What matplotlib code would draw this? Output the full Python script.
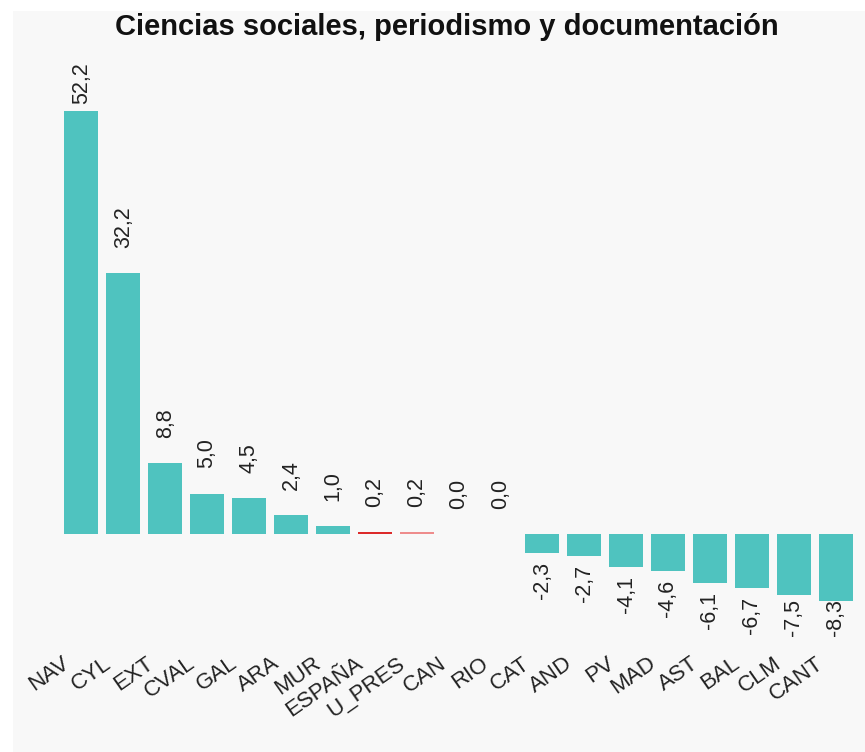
import matplotlib
matplotlib.use("Agg")
import matplotlib.pyplot as plt
import matplotlib.patches as patches
import matplotlib.transforms as mtransforms
import numpy as np

plt.rcParams['font.family'] = ['Liberation Sans', 'DejaVu Sans']

regiones = ['NAV', 'CYL', 'EXT', 'CVAL', 'GAL', 'ARA', 'MUR', 'ESPAÑA', 'U_PRES',
            'CAN', 'RIO', 'CAT', 'AND', 'PV', 'MAD', 'AST', 'BAL', 'CLM', 'CANT']
valores = [52.2, 32.2, 8.8, 5.0, 4.5, 2.4, 1.0, 0.2, 0.2,
           0.0, 0.0, -2.3, -2.7, -4.1, -4.6, -6.1, -6.7, -7.5, -8.3]
titulo = 'Ciencias sociales, periodismo y documentación'

teal = '#4fc3bf'
colores = {'ESPAÑA': '#dc2a2a', 'U_PRES': '#ee8c8c'}

W, H = 865, 752
fig = plt.figure(figsize=(W / 100, H / 100), dpi=100, facecolor='white')
# fondo gris claro
fig.patches.append(patches.Rectangle((13 / W, 0), 1, 1 - 11 / H, transform=fig.transFigure,
                                     facecolor='#f8f8f8', edgecolor='none', zorder=-1))

top_px, bot_px, zero_px = 62, 636, 534
ppu = 8.1
ax = fig.add_axes([60.5 / W, (H - bot_px) / H, 796 / W, (bot_px - top_px) / H])
ax.set_facecolor('none')
ymax = (zero_px - top_px) / ppu
ymin = -(bot_px - zero_px) / ppu
ax.set_ylim(ymin, ymax)
ax.set_xlim(-0.5, len(regiones) - 0.5)

x = np.arange(len(regiones))
cols = [colores.get(r, teal) for r in regiones]
ax.bar(x, valores, width=0.81, color=cols, edgecolor='none')

for s in ax.spines.values():
    s.set_visible(False)
ax.set_yticks([])
ax.tick_params(axis='x', length=0)
ax.set_xticks(x)
ax.set_xticklabels(regiones, rotation=35, ha='right', rotation_mode='anchor', fontsize=16, color='#222222')
off = mtransforms.ScaledTranslation(-0.20, -0.12, fig.dpi_scale_trans)
for lab in ax.get_xticklabels():
    lab.set_transform(lab.get_transform() + off)

# etiquetas de valor
fig.canvas.draw()
renderer = fig.canvas.get_renderer()
for xi, v in zip(x, valores):
    txt = f'{v:.1f}'.replace('.', ',')
    if v >= 0:
        y = v + 25 / ppu
        t = ax.text(xi, y, txt, rotation=90, ha='center', va='bottom', fontsize=15.5, color='#222222')
        ext = t.get_window_extent(renderer)
        largo = ext.height / ppu
        if y + largo > ymax:
            t.set_y(ymax - largo)
    else:
        y = v - 9 / ppu
        t = ax.text(xi, y, txt, rotation=90, ha='center', va='top', fontsize=15.5, color='#222222')
        ext = t.get_window_extent(renderer)
        largo = ext.height / ppu
        if y - largo < ymin:
            t.set_y(ymin + largo)

fig.text(446.5 / W, 1 - 27 / H, titulo, ha='center', va='center', fontsize=21,
         fontweight='bold', color='#111111')

fig.savefig('out.png', dpi=100, facecolor=fig.get_facecolor())
